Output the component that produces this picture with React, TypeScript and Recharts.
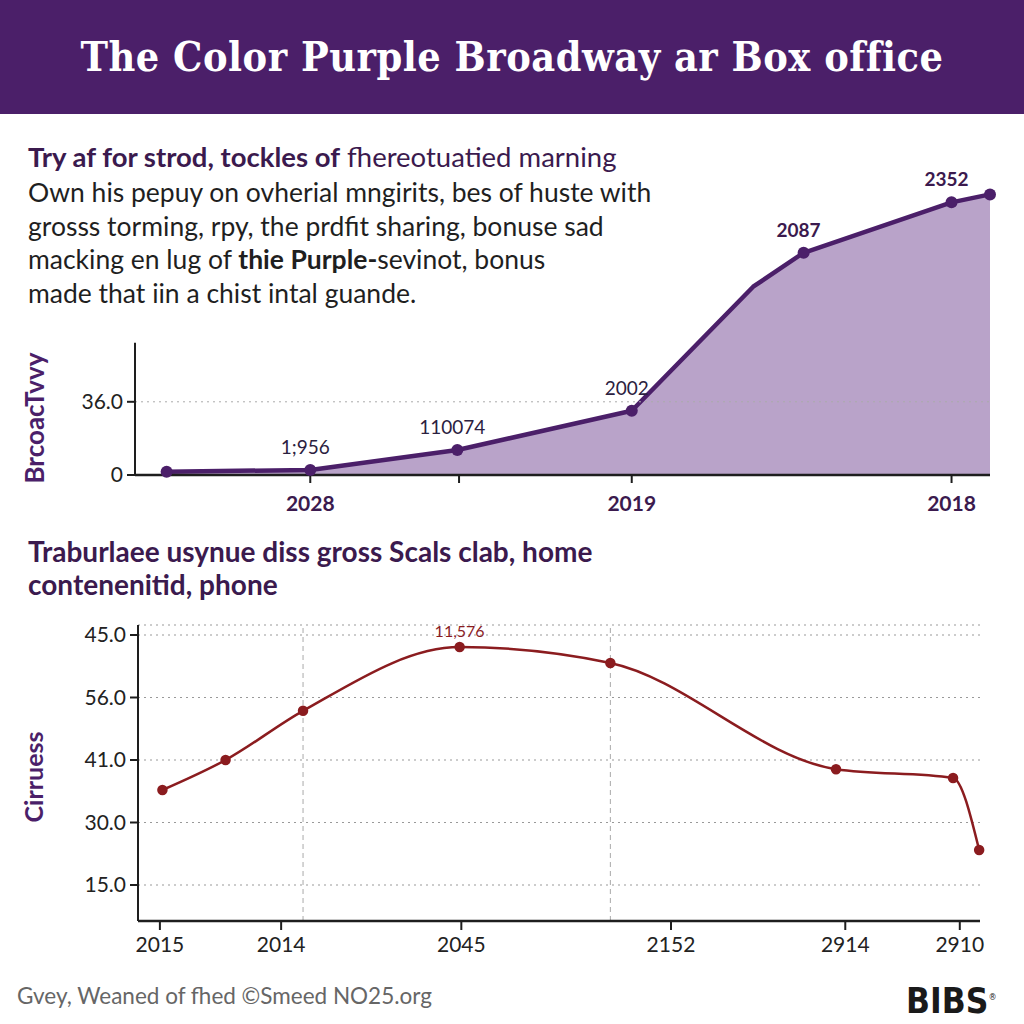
import React from "react";
import {
  AreaChart,
  Area,
  LineChart,
  Line,
  XAxis,
  YAxis,
  CartesianGrid,
  ReferenceLine,
  LabelList,
} from "recharts";

// Top panel: cumulative Broadway gross (position along timeline 0-100)
const topPos = [3.7, 20.5, 37.7, 58.1, 72.3, 78.2, 95.5, 100];
const topValues = [1.6, 2.5, 12.3, 31.6, 92.6, 109.3, 134.1, 138.0];
const topLabels = ["", "1;956", "110074", "2002", "", "2087", "2352", ""];
const topMarked = [true, true, true, true, false, true, true, true];
const topTicks = [20.5, 37.9, 58.1, 95.5];
const topTickLabels = ["2028", "", "2019", "2018"];
const topYTicks = [0, 36];

// Bottom panel: second gross series
const lowPos = [2.9, 10.4, 19.6, 38.2, 56.1, 82.9, 96.8, 99.9];
const lowValues = [37.8, 45.0, 56.8, 72.1, 68.3, 42.8, 40.7, 23.4];
const lowLabels = ["", "", "", "11,576", "", "", "", ""];
const lowTicks = [2.6, 17.0, 38.4, 63.3, 84.0, 97.6];
const lowTickLabels = ["2015", "2014", "2045", "2152", "2914", "2910"];
const lowYTicks = [15, 30, 45, 60, 75];
const lowYTickLabels = ["15.0", "30.0", "41.0", "56.0", "45.0"];
const lowGuides = [19.6, 56.1];

const PURPLE = "#4b1f69";
const DARK_PURPLE = "#3b1a4e";
const RED = "#8b1c1f";
const SANS = "Lato, 'Open Sans', sans-serif";

const topData = topPos.map((x, i) => ({
  x,
  value: topValues[i],
  label: topLabels[i],
}));

const lowData = lowPos.map((x, i) => ({
  x,
  value: lowValues[i],
  label: lowLabels[i],
}));

function TopLabel(props: any) {
  const { x, y, value, index } = props;
  if (!value) return null;
  const bold = topValues[index] > 100;
  return (
    <text
      x={x - 5}
      y={y - 16}
      textAnchor="middle"
      fontFamily={SANS}
      fontSize={19}
      fontWeight={bold ? 700 : 400}
      fill={bold ? DARK_PURPLE : "#2b2140"}
    >
      {value}
    </text>
  );
}

function LowLabel(props: any) {
  const { x, y, value } = props;
  if (!value) return null;
  return (
    <text x={x} y={y - 10} textAnchor="middle" fontFamily={SANS} fontSize={16} fill={RED}>
      {value}
    </text>
  );
}

function TopChart() {
  return (
    <AreaChart
      width={1024}
      height={380}
      data={topData}
      margin={{ top: 10, right: 34, bottom: 25, left: 75 }}
    >
      <ReferenceLine y={36} stroke="#aaa" strokeDasharray="2 4" />
      <XAxis
        dataKey="x"
        type="number"
        domain={[0, 100]}
        ticks={topTicks}
        tickFormatter={(v: number) => topTickLabels[topTicks.indexOf(v)] ?? ""}
        height={40}
        axisLine={{ stroke: "#1e1e1e", strokeWidth: 2.5 }}
        tickLine={{ stroke: "#1e1e1e", strokeWidth: 2 }}
        tickSize={8}
        tickMargin={13}
        tick={{ fontFamily: SANS, fontSize: 21, fontWeight: 700, fill: DARK_PURPLE }}
      />
      <YAxis
        type="number"
        domain={[0, 150]}
        ticks={topYTicks}
        tickFormatter={(v: number) => (v === 0 ? "0" : v.toFixed(1))}
        width={60}
        axisLine={false}
        tickLine={{ stroke: "#1e1e1e", strokeWidth: 2 }}
        tickSize={8}
        tickMargin={4}
        tick={{ fontFamily: SANS, fontSize: 21, fill: "#222" }}
      />
      <ReferenceLine
        segment={[
          { x: 0, y: 0 },
          { x: 0, y: 65 },
        ]}
        stroke="#1e1e1e"
        strokeWidth={2}
      />
      <Area
        type="linear"
        dataKey="value"
        stroke={PURPLE}
        strokeWidth={4.5}
        strokeLinejoin="round"
        fill="#b9a3c9"
        fillOpacity={1}
        isAnimationActive={false}
        dot={(p: any) =>
          topMarked[p.index] ? (
            <circle key={p.index} cx={p.cx} cy={p.cy} r={6} fill={PURPLE} />
          ) : (
            <g key={p.index} />
          )
        }
        activeDot={false}
      >
        <LabelList dataKey="label" content={TopLabel} />
      </Area>
    </AreaChart>
  );
}

function LowChart() {
  return (
    <LineChart
      width={1024}
      height={360}
      data={lowData}
      margin={{ top: 15, right: 44, bottom: 9, left: 78 }}
    >
      <CartesianGrid vertical={false} stroke="#999" strokeDasharray="2 4" />
      {lowGuides.map((g) => (
        <ReferenceLine key={g} x={g} stroke="#aaa" strokeDasharray="5 4" />
      ))}
      <XAxis
        dataKey="x"
        type="number"
        domain={[0, 100]}
        ticks={lowTicks}
        tickFormatter={(v: number) => lowTickLabels[lowTicks.indexOf(v)] ?? ""}
        height={40}
        axisLine={{ stroke: "#1e1e1e", strokeWidth: 2.5 }}
        tickLine={{ stroke: "#1e1e1e", strokeWidth: 2 }}
        tickSize={9}
        tickMargin={7}
        tick={{ fontFamily: SANS, fontSize: 21, fill: "#222" }}
      />
      <YAxis
        type="number"
        domain={[6.36, 77.4]}
        allowDataOverflow
        ticks={lowYTicks}
        tickFormatter={(v: number) => lowYTickLabels[lowYTicks.indexOf(v)] ?? ""}
        width={60}
        axisLine={{ stroke: "#1e1e1e", strokeWidth: 2 }}
        tickLine={{ stroke: "#1e1e1e", strokeWidth: 2 }}
        tickSize={8}
        tickMargin={4}
        tick={{ fontFamily: SANS, fontSize: 21, fill: "#222" }}
      />
      <Line
        type="monotone"
        dataKey="value"
        stroke={RED}
        strokeWidth={2.5}
        dot={{ r: 4, fill: RED, stroke: RED }}
        activeDot={false}
        isAnimationActive={false}
      >
        <LabelList dataKey="label" content={LowLabel} />
      </Line>
    </LineChart>
  );
}

export default function App() {
  return (
    <div
      style={{
        position: "absolute",
        left: 0,
        top: 0,
        width: 1024,
        height: 1024,
        background: "#fff",
        overflow: "hidden",
        fontFamily: SANS,
      }}
    >
      <div
        style={{
          position: "absolute",
          left: 0,
          top: 0,
          width: 1024,
          height: 114,
          background: PURPLE,
          color: "#fff",
          display: "flex",
          alignItems: "center",
          justifyContent: "center",
          fontFamily: "'DejaVu Serif Condensed', 'DejaVu Serif', serif",
          fontWeight: 700,
          fontSize: 41,
          letterSpacing: 0.5,
        }}
      >
        The Color Purple Broadway ar Box office
      </div>

      <div
        style={{
          position: "absolute",
          left: 28,
          top: 141,
          fontSize: 27.5,
          lineHeight: "32px",
          color: DARK_PURPLE,
          whiteSpace: "nowrap",
        }}
      >
        <b>Try af for strod, tockles of</b> fhereotuatied marning
      </div>
      <div
        style={{
          position: "absolute",
          left: 28,
          top: 176,
          fontSize: 26.5,
          lineHeight: "33.5px",
          color: "#1f1f1f",
          whiteSpace: "nowrap",
        }}
      >
        Own his pepuy on ovherial mngirits, bes of huste with
        <br />
        grosss torming, rpy, the prdfit sharing, bonuse sad
        <br />
        macking en lug of <b>thie Purple-</b>sevinot, bonus
        <br />
        made that iin a chist intal guande.
      </div>

      <div style={{ position: "absolute", left: 0, top: 160 }}>
        <TopChart />
      </div>
      <div
        style={{
          position: "absolute",
          left: 34,
          top: 418,
          transform: "translate(-50%, -50%) rotate(-90deg)",
          fontSize: 26,
          fontWeight: 700,
          color: PURPLE,
          whiteSpace: "nowrap",
        }}
      >
        BrcoacTvvy
      </div>

      <div
        style={{
          position: "absolute",
          left: 28,
          top: 535,
          fontSize: 28,
          fontWeight: 700,
          lineHeight: "33px",
          color: DARK_PURPLE,
          whiteSpace: "nowrap",
        }}
      >
        Traburlaee usynue diss gross Scals clab, home
        <br />
        contenenitid, phone
      </div>

      <div style={{ position: "absolute", left: 0, top: 610 }}>
        <LowChart />
      </div>
      <div
        style={{
          position: "absolute",
          left: 33,
          top: 777,
          transform: "translate(-50%, -50%) rotate(-90deg)",
          fontSize: 25,
          fontWeight: 700,
          color: PURPLE,
          whiteSpace: "nowrap",
        }}
      >
        Cirruess
      </div>

      <div
        style={{
          position: "absolute",
          left: 17,
          top: 983,
          fontSize: 22.5,
          lineHeight: "26px",
          color: "#666",
          whiteSpace: "nowrap",
        }}
      >
        Gvey, Weaned of fhed ©Smeed NO25.org
      </div>
      <div
        style={{
          position: "absolute",
          left: 906,
          top: 978,
          fontSize: 35,
          lineHeight: "38px",
          fontWeight: 700,
          color: "#1a1a1a",
          fontFamily: "'Liberation Sans Narrow', 'DejaVu Sans Condensed', sans-serif",
          whiteSpace: "nowrap",
        }}
      >
        BIBS<sup style={{ fontSize: 9, fontWeight: 400 }}>®</sup>
      </div>
    </div>
  );
}
